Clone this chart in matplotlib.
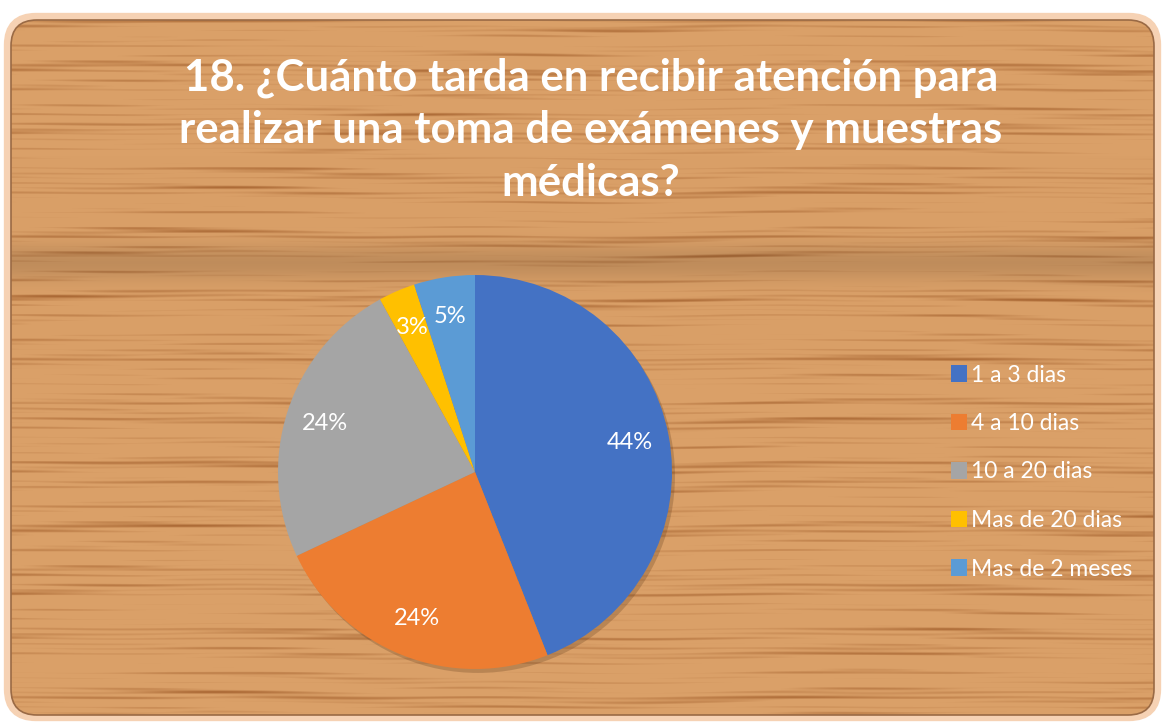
import numpy as np
import matplotlib.pyplot as plt
from matplotlib.patches import FancyBboxPatch, Circle

# chart data
title = "18. ¿Cuánto tarda en recibir atención para\nrealizar una toma de exámenes y muestras\nmédicas?"
categories = ["1 a 3 dias", "4 a 10 dias", "10 a 20 dias", "Mas de 20 dias", "Mas de 2 meses"]
values = [44, 24, 24, 3, 5]
colors = ["#4472C4", "#ED7D31", "#A5A5A5", "#FFC000", "#5B9BD5"]

W, H = 1163, 725
fig = plt.figure(figsize=(W / 100, H / 100), dpi=100)
fig.patch.set_facecolor("white")

# background panel with a wood-like texture (decoration only)
bg = fig.add_axes([0, 0, 1, 1])
bg.set_xlim(0, W)
bg.set_ylim(H, 0)
bg.axis("off")

yy = np.arange(H)[:, None].astype(float)
xx = np.arange(W)[None, :].astype(float)
amp1 = 0.6 + 0.4 * np.sin(2 * np.pi * xx / 530.0 + yy / 40.0)
amp2 = 0.6 + 0.4 * np.sin(2 * np.pi * xx / 330.0 + 2.0 + yy / 25.0)
g = (amp1 * np.sin(2 * np.pi * yy / 21.0 + 1.8 * np.sin(2 * np.pi * xx / 700.0))
     + 0.8 * amp2 * np.sin(2 * np.pi * yy / 8.7 + 1.1 * np.sin(2 * np.pi * xx / 410.0 + 1.0))
     + 0.5 * np.sin(2 * np.pi * yy / 4.9 + 0.7 * np.sin(2 * np.pi * xx / 260.0 + 2.0))
     + 0.4 * np.sin(2 * np.pi * yy / 57.0 + 0.5 * np.sin(2 * np.pi * xx / 900.0)))
g = (g - g.min()) / (g.max() - g.min())
dark = np.clip((g - 0.55) / 0.45, 0, 1) ** 1.2
light = np.array([218, 160, 104]) / 255.0
darkc = np.array([172, 106, 54]) / 255.0
img = light[None, None, :] * (1 - dark[..., None]) + darkc[None, None, :] * dark[..., None]
# softer darker band behind the upper pie area
band = np.exp(-((yy - 262) / 18.0) ** 2) * 0.12
img = img * (1 - band[..., None])

glow = FancyBboxPatch((8, 17), W - 14, H - 25, boxstyle="round,pad=0,rounding_size=28",
                      facecolor="none", edgecolor="#F6D2B4", linewidth=6, zorder=1)
bg.add_patch(glow)
panel = FancyBboxPatch((11, 20), W - 20, H - 30, boxstyle="round,pad=0,rounding_size=26",
                       facecolor="none", edgecolor="#9A6A45", linewidth=1.2, zorder=3)
bg.add_patch(panel)
im = bg.imshow(img, extent=(0, W, H, 0), zorder=2, aspect="auto")
im.set_clip_path(panel)

# title
fig.text(591 / W, 1 - 130 / H, title, ha="center", va="center", color="white",
         fontsize=31.5, fontweight="bold", family="Lato", linespacing=1.38)

# pie
cx, cy, r = 475, 472, 197
lim = 1.03
ax = fig.add_axes([(cx - r * lim) / W, (H - cy - r * lim) / H, 2 * r * lim / W, 2 * r * lim / H])
ax.add_patch(Circle((0.015, -0.02), 1.0, facecolor="#5a3518", alpha=0.25, zorder=0))
wedges, texts, autotexts = ax.pie(
    values, colors=colors, startangle=90, counterclock=False,
    autopct=lambda p: f"{p:.0f}%", pctdistance=0.8,
    wedgeprops=dict(linewidth=0), textprops=dict(color="white", fontsize=17, family="Lato"))
ax.set_xlim(-lim, lim)
ax.set_ylim(-lim, lim)
ax.set_aspect("equal")
ax.axis("off")

# legend
leg = fig.legend(wedges, categories, loc="center left",
                 bbox_to_anchor=(930 / W, 1 - 472 / H), frameon=False,
                 prop=dict(family="Lato", size=16.5), labelcolor="white",
                 handlelength=0.7, handleheight=0.7, handletextpad=0.2,
                 labelspacing=1.2)

fig.savefig("out.png", dpi=100)
